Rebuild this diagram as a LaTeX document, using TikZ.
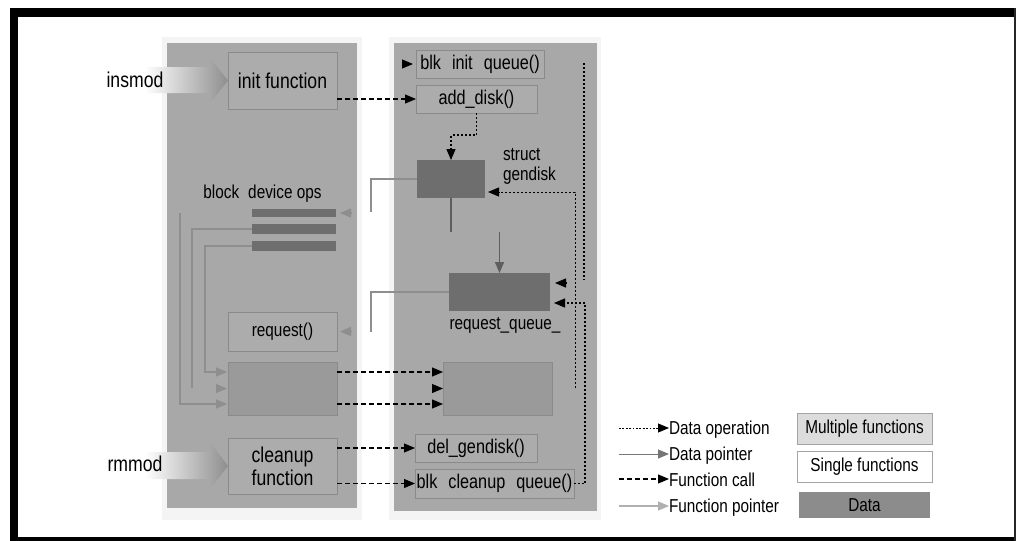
\documentclass[tikz,border=0pt]{standalone}
\usepackage{fontspec}
\setmainfont{Liberation Sans}[FakeStretch=0.82]
\usetikzlibrary{arrows.meta,calc}

\definecolor{panelgray}{HTML}{A8A8A8}
\definecolor{halogray}{HTML}{F4F4F4}
\definecolor{fnfill}{HTML}{ACACAC}
\definecolor{fnline}{HTML}{8A8A8A}
\definecolor{multifill}{HTML}{9A9A9A}
\definecolor{datafill}{HTML}{6E6E6E}
\definecolor{ptrdark}{HTML}{5E5E5E}
\definecolor{ptrlight}{HTML}{8E8E8E}
\definecolor{legmulti}{HTML}{DCDCDC}
\definecolor{legline}{HTML}{A4A4A4}
\definecolor{legdata}{HTML}{8C8C8C}

\newcommand\bigfont{\fontsize{21.5}{23}\selectfont}
\newcommand\midfont{\fontsize{19.8}{21}\selectfont}
\newcommand\labfont{\fontsize{18.7}{20}\selectfont}

\begin{document}
\begin{tikzpicture}[x=1pt,y=-1pt,
  panel/.style={fill=panelgray},
  halo/.style={fill=halogray},
  fnbox/.style={draw=fnline, fill=fnfill, line width=1pt, inner sep=0pt, outer sep=0pt},
  multibox/.style={draw=fnline, fill=multifill, line width=1pt, inner sep=0pt, outer sep=0pt},
  databox/.style={fill=datafill, inner sep=0pt, outer sep=0pt},
  legbox/.style={draw=legline, line width=1pt, inner sep=0pt, outer sep=0pt, font=\labfont},
  lab/.style={inner sep=0pt, outer sep=0pt, font=\labfont},
  dataop/.style={draw=black, line width=1.3pt, dash pattern=on 2pt off 2pt},
  dataoparrow/.style={dataop, -{Triangle[length=11pt,width=9pt]}},
  fcall/.style={draw=black, line width=1.1pt, dash pattern=on 4.5pt off 3.5pt, -{Triangle[length=11pt,width=9pt]}},
  dptr/.style={draw=ptrdark, line width=1.3pt},
  dptrarrow/.style={dptr, -{Triangle[length=11pt,width=9pt]}},
  fptr/.style={draw=ptrlight, line width=1.1pt},
  fptrarrow/.style={fptr, -{Triangle[length=11pt,width=9pt]}},
  modarrow/.style={left color=white, right color=ptrlight},
]
% page and frame
\fill[white] (0,0) rectangle (1018,541);
\useasboundingbox (0,0) rectangle (1018,541);
\fill[black] (10,8) rectangle (1016,17);
\fill[black] (10,8) rectangle (18,541);
\fill[black] (10,537) rectangle (1016,541);
\fill[black!85] (1013.5,8) rectangle (1015.5,541);

% the two panels
\fill[halo] (162,37) rectangle (362,520);
\fill[halo] (389,37) rectangle (601,520);
\fill[panel] (167,43) rectangle (357,508);
\fill[panel] (394,43) rectangle (597,511);

% module entry points
\shade[modarrow] (145,67) -- (210,67) -- (210,58) -- (228,80.5) -- (210,103) -- (210,93) -- (145,93) -- cycle;
\shade[modarrow] (145,452) -- (210,452) -- (210,442) -- (228,466) -- (210,489) -- (210,479) -- (145,479) -- cycle;
\node[lab, font=\bigfont, anchor=base] (insmod) at (135,87) {insmod};
\node[lab, font=\bigfont, anchor=base] (rmmod) at (135,471) {rmmod};

% left panel
\node[fnbox, minimum width=109pt, minimum height=57pt, font=\bigfont] (init) at (282.5,80.5) {init function};
\node[lab, anchor=base] (ops) at (262.5,198) {block\hspace{9pt}device ops};
\node[databox, minimum width=84pt, minimum height=8pt] (bar1) at (294,213) {};
\node[databox, minimum width=84pt, minimum height=10pt] (bar2) at (294,229) {};
\node[databox, minimum width=84pt, minimum height=10pt] (bar3) at (294,246) {};
\node[fnbox, minimum width=109pt, minimum height=39pt, font=\labfont] (req) at (282.5,331.5) {request()};
\node[multibox, minimum width=109pt, minimum height=53pt] (ldata) at (282.5,388.5) {};
\node[fnbox, minimum width=109pt, minimum height=56pt, font=\bigfont, align=center] (cleanup) at (282.5,466) {cleanup\\function};

% right panel
\node[fnbox, minimum width=128pt, minimum height=28pt, font=\midfont] (blkinit) at (480,64) {blk\hspace{11pt}init\hspace{11pt}queue()};
\node[fnbox, minimum width=121pt, minimum height=28pt, font=\midfont] (adddisk) at (476.5,99) {add\_disk()};
\node[databox, minimum width=68pt, minimum height=38pt] (gendisk) at (451,179) {};
\node[lab, align=left, anchor=north west] (gdlabel) at (503,148) {struct\\gendisk};
\node[databox, minimum width=101pt, minimum height=38pt] (reqq) at (499.5,292) {};
\node[lab, anchor=base] (rqlabel) at (505,329) {request\_queue\_};
\node[multibox, minimum width=109pt, minimum height=53pt] (rdata) at (497.5,388.5) {};
\node[fnbox, minimum width=122pt, minimum height=28pt, font=\midfont] (delgen) at (476,448) {del\_gendisk()};
\node[fnbox, minimum width=159pt, minimum height=29pt, font=\midfont] (blkclean) at (494.5,483.5) {blk\hspace{11pt}cleanup\hspace{11pt}queue()};

% free ends of the pointer lines
\coordinate (b1top) at (180,213);
\coordinate (b2end) at (192,388);
\coordinate (gdbend) at (371,212);
\coordinate (rqbend) at (371,332);
\coordinate (qtop) at (584,63);
\coordinate (qbot) at (584,280);
\coordinate (gdstart) at (575,388);

% function calls
\draw[fcall] (adddisk.west -| init.east) -- (adddisk.west);
\draw[fcall] ($(blkinit.west)+(-14,0)$) -- ($(blkinit.west)+(-3,0)$);
\draw[fcall] ($(ldata.north east)+(0,10)$) -- ($(rdata.north west)+(0,10)$);
\draw[fcall] ($(rdata.west)+(-11,0)$) -- (rdata.west);
\draw[fcall] ($(ldata.south east)+(0,-11)$) -- ($(rdata.south west)+(0,-11)$);
\draw[fcall] (delgen.west -| cleanup.east) -- (delgen.west);
\draw[fcall] (blkclean.west -| cleanup.east) -- (blkclean.west);

% data operations
\draw[dataoparrow] (adddisk.south) -- ++(0,22) -| (gendisk.north);
\draw[dataop] (qtop) -- (qbot);
\draw[dataoparrow] ($(reqq.north east)+(16,10)$) -- ($(reqq.north east)+(5,10)$);
\draw[dataoparrow] (blkclean.east) -- ++(11,0) |- ($(reqq.south east)+(4,-8)$);
\draw[dataop, line width=1pt, -{Triangle[length=11pt,width=9pt]}] (gdstart) |- ($(gendisk.south east)+(3,-6)$);

% data pointers
\draw[dptr] (gendisk.south) -- ++(0,34);
\draw[dptrarrow] ($(reqq.north)+(0,-41)$) -- (reqq.north);

% function pointers
\draw[fptr] (gendisk.west) -| (gdbend);
\draw[fptrarrow] ($(bar1.east)+(15,0)$) -- ($(bar1.east)+(4,0)$);
\draw[fptr] (reqq.west) -| (rqbend);
\draw[fptrarrow] ($(req.east)+(14,0)$) -- ($(req.east)+(3,0)$);
\draw[fptr] (bar2.west) -| (b2end);
\draw[fptrarrow] ($(ldata.west)+(-12,0)$) -- ($(ldata.west)+(-1,0)$);
\draw[fptrarrow] (bar3.west) -| ($(ldata.north west)+(-23,10)$) -- ($(ldata.north west)+(-1,10)$);
\draw[fptrarrow] (b1top) |- ($(ldata.south west)+(-1,-11)$);

% legend
\node[lab, anchor=base west] (t1) at (669,434) {Data operation};
\node[lab, anchor=base west] (t2) at (669,460) {Data pointer};
\node[lab, anchor=base west] (t3) at (669,486) {Function call};
\node[lab, anchor=base west] (t4) at (669,512) {Function pointer};
\coordinate (l1) at (619,428);
\coordinate (l2) at (619,454);
\coordinate (l3) at (619,479);
\coordinate (l4) at (619,506);
\draw[dataoparrow, line width=0.9pt, dash pattern=on 1.8pt off 1.6pt] (l1) -- (l1 -| t1.west);
\draw[dptrarrow, line width=1pt, draw=ptrdark!85] (l2) -- (l2 -| t2.west);
\draw[fcall] (l3) -- (l3 -| t3.west);
\draw[fptrarrow, draw=ptrlight!70] (l4) -- (l4 -| t4.west);
\node[legbox, fill=legmulti, minimum width=135pt, minimum height=31pt] (kmulti) at (864.5,428.5) {Multiple functions};
\node[legbox, fill=white, minimum width=135pt, minimum height=31pt] (ksingle) at (864.5,466.5) {Single functions};
\node[legbox, draw=none, fill=legdata, minimum width=131pt, minimum height=26pt] (kdata) at (864.5,505) {Data};
\end{tikzpicture}
\end{document}
